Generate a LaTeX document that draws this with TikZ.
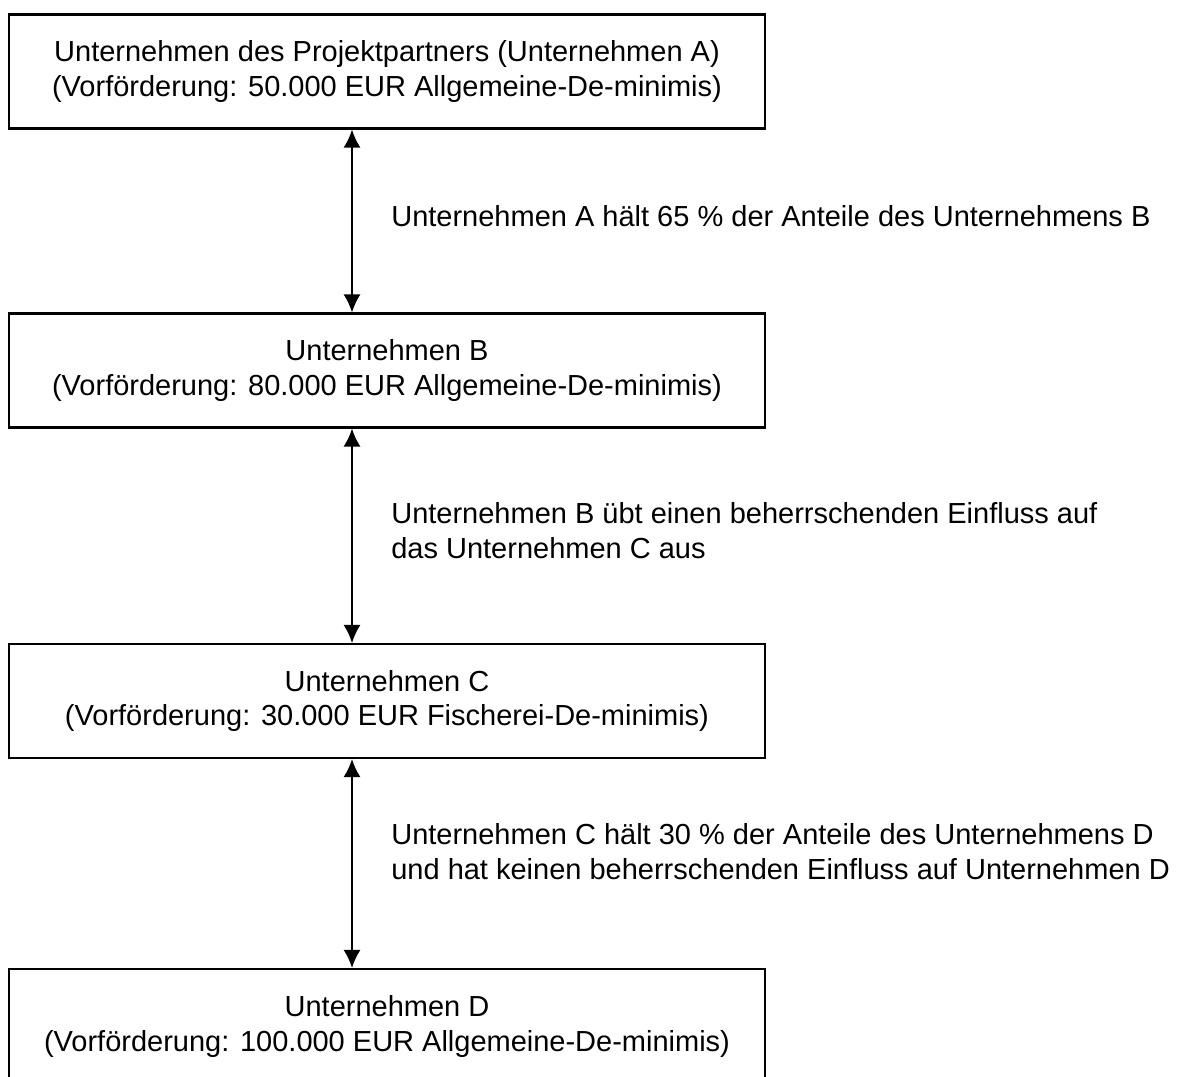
\documentclass[tikz,border=0pt]{standalone}
\usepackage{fontspec}
\setmainfont{Liberation Sans}
\usetikzlibrary{arrows.meta}
\tikzset{
    firm/.style={draw, line width=1.2pt, minimum width=15.12cm, minimum height=2.28cm,
        align=center, inner sep=0pt, font=\fontsize{16.5}{19.9}\selectfont},
    relation/.style={align=left, anchor=west, inner sep=0pt, font=\fontsize{16.5}{19.9}\selectfont},
    link/.style={line width=1pt, {Latex[length=0.36cm,width=0.34cm]}-{Latex[length=0.36cm,width=0.34cm]}},
}
\begin{document}
\begin{tikzpicture}
    \useasboundingbox (0,0) rectangle (23.64,-21.52);
    \node[firm] (A) at (7.74,-1.43) {Unternehmen des Projektpartners (Unternehmen A)\\(Vorförderung: 50.000 EUR Allgemeine-De-minimis)};
    \node[firm] (B) at (7.74,-7.41) {Unternehmen B\\(Vorförderung: 80.000 EUR Allgemeine-De-minimis)};
    \node[firm] (C) at (7.74,-14.02) {Unternehmen C\\(Vorförderung: 30.000 EUR Fischerei-De-minimis)};
    \node[firm] (D) at (7.74,-20.52) {Unternehmen D\\(Vorförderung: 100.000 EUR Allgemeine-De-minimis)};
    % Verbindungen
    \draw [link] ([xshift=-0.7cm]A.south) -- ([xshift=-0.7cm]B.north);
    \draw [link] ([xshift=-0.7cm]B.south) -- ([xshift=-0.7cm]C.north);
    \draw [link] ([xshift=-0.7cm]C.south) -- ([xshift=-0.7cm]D.north);
    \node[relation] (AB) at (7.82,-4.32) {Unternehmen A hält 65 \% der Anteile des Unternehmens B};
    \node[relation] (BC) at (7.82,-10.62) {Unternehmen B übt einen beherrschenden Einfluss auf\\das Unternehmen C aus};
    \node[relation] (CD) at (7.82,-17.03) {Unternehmen C hält 30 \% der Anteile des Unternehmens D\\und hat keinen beherrschenden Einfluss auf Unternehmen D};
\end{tikzpicture}
\end{document}
